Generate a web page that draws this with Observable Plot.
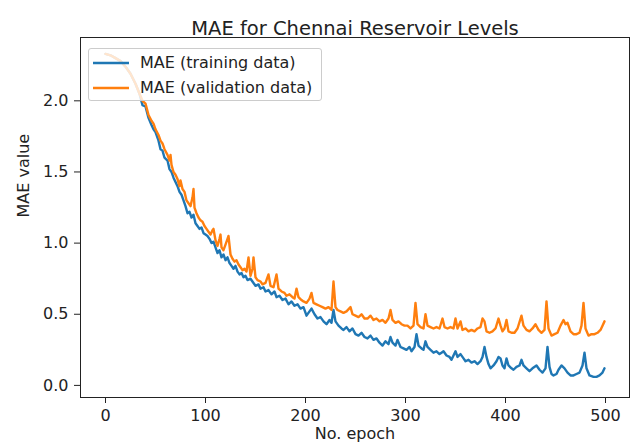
<!DOCTYPE html>
<html>
<head>
<meta charset="utf-8">
<script src="https://cdn.jsdelivr.net/npm/d3@7"></script>
<script src="https://cdn.jsdelivr.net/npm/@observablehq/plot@0.6"></script>
<style>
  html, body { margin: 0; padding: 0; background: #fff; }
  #wrap { position: relative; width: 630px; height: 446px; overflow: hidden; font-family: "DejaVu Sans", sans-serif; }
  #legend { position: absolute; left: 88px; top: 48px; width: 234px; height: 53px; box-sizing: border-box;
    border: 1px solid #cccccc; border-radius: 3px; background: rgba(255,255,255,0.8); }
  .row { position: absolute; left: 0; height: 20px; display: flex; align-items: center; }
  .row svg { position: absolute; left: 4px; }
  .row span { position: absolute; left: 51px; white-space: nowrap; font-size: 16px; color: #222; line-height: 20px; }
</style>
</head>
<body>
<div id="wrap"></div>
<script>
// ---- data ----
const chartTitle = "MAE for Chennai Reservoir Levels";
const xLabel = "No. epoch";
const yLabel = "MAE value";
const seriesNames = ["MAE (training data)", "MAE (validation data)"];
const seriesColors = ["#1f77b4", "#ff7f0e"];
const xTicks = [0, 100, 200, 300, 400, 500];
const yTicks = [0.0, 0.5, 1.0, 1.5, 2.0];

const trainEpochs = [0,5,10,15,20,25,30,34,37,40,43,46,48,50,53,55,57,59,62,64,66,68,70,72,74,76,78,80,82,84,86,88,90,92,94,96,98,100,102,104,106,108,110,112,114,116,118,120,122,124,126,128,130,132,134,136,138,140,142,145,148,150,153,155,158,160,163,166,169,171,174,177,180,183,186,189,192,195,198,201,204,206,209,212,215,218,221,224,226,228,230,233,236,238,241,244,247,250,253,256,259,262,265,268,271,274,277,280,283,285,287,290,292,295,298,301,304,306,309,311,313,316,318,320,322,325,328,331,334,336,338,341,344,346,348,350,352,355,358,360,363,366,369,372,375,377,379,381,383,385,388,391,393,395,397,399,401,403,406,408,411,414,416,418,421,424,427,431,434,437,440,442,444,446,448,451,453,456,459,462,465,468,471,474,477,479,481,484,488,491,494,497,499];
const trainMAE = [2.33,2.32,2.30,2.28,2.24,2.19,2.12,2.05,1.97,1.96,1.88,1.83,1.80,1.78,1.72,1.66,1.65,1.60,1.58,1.52,1.50,1.46,1.43,1.40,1.36,1.34,1.30,1.26,1.21,1.22,1.18,1.20,1.14,1.12,1.10,1.11,1.07,1.06,1.05,1.03,1.00,1.01,0.97,0.93,0.95,0.90,0.92,0.88,0.90,0.86,0.84,0.82,0.84,0.80,0.78,0.79,0.76,0.77,0.74,0.75,0.72,0.70,0.71,0.68,0.69,0.66,0.67,0.64,0.66,0.62,0.63,0.60,0.61,0.57,0.59,0.56,0.57,0.54,0.55,0.49,0.52,0.54,0.50,0.47,0.48,0.45,0.43,0.46,0.44,0.53,0.45,0.42,0.40,0.39,0.41,0.38,0.40,0.36,0.35,0.37,0.34,0.33,0.35,0.32,0.33,0.30,0.28,0.31,0.29,0.34,0.30,0.28,0.32,0.27,0.26,0.25,0.27,0.24,0.27,0.36,0.28,0.26,0.25,0.31,0.27,0.25,0.23,0.24,0.22,0.23,0.24,0.21,0.20,0.18,0.21,0.24,0.20,0.22,0.19,0.17,0.18,0.16,0.17,0.15,0.17,0.20,0.27,0.20,0.15,0.12,0.14,0.17,0.20,0.19,0.14,0.12,0.19,0.14,0.12,0.11,0.13,0.14,0.18,0.14,0.12,0.10,0.12,0.14,0.11,0.09,0.12,0.27,0.13,0.08,0.07,0.08,0.11,0.14,0.12,0.09,0.07,0.07,0.08,0.09,0.14,0.23,0.12,0.07,0.06,0.06,0.07,0.09,0.12];

const valEpochs = [0,5,10,15,20,25,30,34,37,40,43,46,48,50,53,55,57,59,62,64,65,66,68,70,72,74,75,77,79,81,83,85,87,88,89,91,93,95,97,99,101,103,105,107,108,110,112,114,115,116,118,120,122,123,125,127,129,131,133,135,137,139,141,143,145,147,148,150,152,155,157,160,163,165,168,171,173,176,179,181,184,187,189,191,193,196,198,201,204,206,208,211,214,217,220,223,226,228,230,232,235,238,241,245,247,250,253,256,259,262,265,268,271,274,277,280,283,285,287,290,293,296,299,302,305,308,310,312,315,318,320,322,325,328,331,334,337,339,342,345,348,350,352,355,357,360,363,366,369,372,375,377,379,381,384,387,390,393,395,397,399,401,403,406,409,412,416,418,421,424,427,430,433,436,439,441,443,446,449,452,455,458,460,462,465,468,471,474,476,478,480,483,486,489,492,495,497,499];
const valMAE = [2.33,2.32,2.30,2.28,2.24,2.19,2.12,2.05,2.00,1.98,1.90,1.86,1.84,1.80,1.76,1.72,1.70,1.66,1.62,1.58,1.62,1.55,1.50,1.48,1.45,1.40,1.44,1.38,1.36,1.30,1.28,1.26,1.32,1.38,1.25,1.21,1.18,1.16,1.15,1.12,1.10,1.08,1.06,1.09,1.10,1.02,0.98,1.03,1.06,0.97,0.95,0.99,1.03,1.05,0.92,0.89,0.87,0.88,0.85,0.83,0.81,0.82,0.80,0.90,0.77,0.82,0.90,0.76,0.74,0.73,0.71,0.72,0.78,0.70,0.69,0.78,0.68,0.66,0.65,0.63,0.64,0.62,0.61,0.68,0.62,0.60,0.59,0.58,0.61,0.65,0.58,0.57,0.56,0.55,0.54,0.55,0.53,0.73,0.55,0.53,0.52,0.51,0.52,0.55,0.50,0.49,0.48,0.50,0.47,0.47,0.49,0.46,0.47,0.45,0.46,0.44,0.47,0.53,0.46,0.44,0.45,0.43,0.42,0.42,0.40,0.42,0.58,0.43,0.41,0.40,0.50,0.42,0.41,0.40,0.41,0.40,0.47,0.41,0.40,0.41,0.40,0.47,0.40,0.45,0.39,0.40,0.38,0.39,0.38,0.40,0.41,0.47,0.45,0.38,0.37,0.38,0.40,0.47,0.42,0.38,0.40,0.46,0.38,0.37,0.37,0.40,0.49,0.42,0.39,0.38,0.40,0.43,0.39,0.37,0.39,0.59,0.40,0.35,0.36,0.37,0.42,0.46,0.43,0.44,0.38,0.36,0.36,0.37,0.42,0.58,0.40,0.35,0.36,0.36,0.37,0.39,0.42,0.45];

// ---- build tables ----
const train = trainEpochs.map((e, i) => ({epoch: e, mae: trainMAE[i]}));
const val = valEpochs.map((e, i) => ({epoch: e, mae: valMAE[i]}));

const chart = Plot.plot({
  width: 630,
  height: 446,
  marginLeft: 80,
  marginRight: 1,
  marginTop: 37,
  marginBottom: 49,
  style: {fontFamily: "DejaVu Sans, sans-serif", fontSize: "16px", color: "#222", background: "#fff"},
  x: {domain: [-25, 524]},
  y: {domain: [-0.085, 2.445]},
  marks: [
    Plot.axisX({ticks: xTicks, tickSize: 6, tickPadding: 6, label: null, fontSize: 16}),
    Plot.axisY({ticks: yTicks, tickSize: 6, tickPadding: 6, label: null, tickFormat: d3.format(".1f"), fontSize: 16}),
    Plot.line(train, {x: "epoch", y: "mae", stroke: seriesColors[0], strokeWidth: 2.4, strokeLinejoin: "round"}),
    Plot.line(val, {x: "epoch", y: "mae", stroke: seriesColors[1], strokeWidth: 2.4, strokeLinejoin: "round"}),
    Plot.frame({stroke: "#222", strokeWidth: 1}),
    Plot.text([chartTitle], {frameAnchor: "top", dy: -16, text: d => d, fontSize: 19.5, fill: "#222"}),
    Plot.text([xLabel], {frameAnchor: "bottom", dy: 41, text: d => d, fontSize: 16, fill: "#222"}),
    Plot.text([yLabel], {frameAnchor: "left", dx: -57, text: d => d, rotate: -90, fontSize: 16, fill: "#222"})
  ]
});

const wrap = document.getElementById("wrap");
wrap.appendChild(chart);

// legend (matplotlib-style, upper left)
const legend = document.createElement("div");
legend.id = "legend";
seriesNames.forEach((name, i) => {
  const row = document.createElement("div");
  row.className = "row";
  row.style.top = (4 + i * 25) + "px";
  row.innerHTML = `<svg width="36" height="20"><line x1="0" y1="10" x2="36" y2="10" stroke="${seriesColors[i]}" stroke-width="2.4"/></svg><span>${name}</span>`;
  legend.appendChild(row);
});
wrap.appendChild(legend);
</script>
</body>
</html>
